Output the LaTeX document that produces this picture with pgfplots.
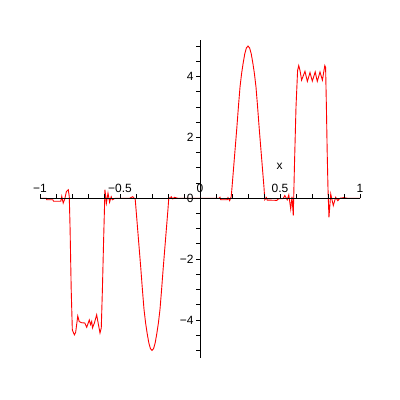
\documentclass[border=0pt]{standalone}
\usepackage{pgfplots}
\pgfplotsset{compat=1.18}
\usepackage{fontspec}
\setmainfont{Liberation Sans}
\begin{document}
\begin{tikzpicture}
\path[use as bounding box, fill=white] (0,0) rectangle (400bp,400bp);
\begin{axis}[
  at={(40bp,42bp)}, anchor=south west,
  scale only axis, width=320bp, height=318bp,
  xmin=-1, xmax=1, ymin=-5.25, ymax=5.2,
  axis lines=middle, axis on top,
  axis line style={-, black, line width=0.8bp},
  hide obscured x ticks=false, hide obscured y ticks=false,
  xtick={-1,-0.5,0,0.5,1},
  xticklabels={−1,−0.5,0,0.5,1},
  minor xtick={-0.9,-0.8,-0.7,-0.6,-0.4,-0.3,-0.2,-0.1,0.1,0.2,0.3,0.4,0.6,0.7,0.8,0.9},
  ytick={-4,-2,0,2,4},
  yticklabels={−4,−2,0,2,4},
  minor ytick={-5,-4.5,-3.5,-3,-2.5,-1.5,-1,-0.5,0.5,1,1.5,2.5,3,3.5,4.5,5},
  xtick align=inside, ytick align=outside,
  major tick length=4bp, minor tick length=4bp,
  tick style={black, line width=0.8bp},
  every tick label/.append style={font=\fontsize{12}{14}\selectfont},
  xticklabel style={anchor=south, yshift=2bp},
  yticklabel style={anchor=east, xshift=1bp},
  clip=false,
]
\addplot[red, line width=0.9bp] coordinates {
(-1,0) (-0.96,0) (-0.958,-0.05) (-0.92,-0.05) (-0.915,-0.1) (-0.87,-0.1)
(-0.864,0.06) (-0.855,-0.16) (-0.845,-0.02) (-0.835,0.22) (-0.823,0.28) (-0.817,0.05)
(-0.812,-1.0) (-0.805,-3.0) (-0.798,-4.33) (-0.785,-4.49) (-0.777,-4.4) (-0.764,-3.87)
(-0.755,-4.05) (-0.74,-4.09) (-0.72,-4.1) (-0.708,-4.24) (-0.692,-4.0) (-0.684,-4.15)
(-0.677,-4.05) (-0.672,-4.26) (-0.66,-4.1) (-0.646,-3.83) (-0.625,-4.43) (-0.617,-4.26)
(-0.61,-3.0) (-0.603,-1.5) (-0.594,0.28) (-0.585,-0.16) (-0.575,0.17) (-0.565,-0.13)
(-0.555,0.05) (-0.548,-0.05) (-0.53,0) (-0.44,0) (-0.42,0.05) (-0.405,-0.03)
(-0.4,-0.35) (-0.39,-1.0) (-0.38,-1.65) (-0.37,-2.3) (-0.36,-3.0) (-0.35,-3.65)
(-0.34,-4.1) (-0.33,-4.45) (-0.32,-4.75) (-0.31,-4.94) (-0.3,-5.0) (-0.29,-4.94)
(-0.28,-4.75) (-0.27,-4.45) (-0.26,-4.1) (-0.25,-3.65) (-0.24,-3.0) (-0.23,-2.3)
(-0.22,-1.65) (-0.21,-1.0) (-0.2,-0.35) (-0.195,0.02) (-0.185,0.0) (-0.18,0.05)
(-0.17,-0.02) (-0.16,0.03) (-0.14,0) (0,0)
(0.12,0) (0.125,0.03) (0.13,-0.05) (0.17,-0.05) (0.175,0.02) (0.185,-0.08) (0.195,0.05)
(0.2,0.35) (0.21,1.0) (0.22,1.65) (0.23,2.3) (0.24,3.0) (0.25,3.65) (0.26,4.1)
(0.27,4.45) (0.28,4.75) (0.29,4.94) (0.3,5.0) (0.31,4.94) (0.32,4.75) (0.33,4.45)
(0.34,4.1) (0.35,3.65) (0.36,3.0) (0.37,2.3) (0.38,1.65) (0.39,1.0) (0.4,0.35)
(0.405,-0.05) (0.415,0.02) (0.42,-0.06) (0.48,-0.07) (0.49,-0.02) (0.52,-0.01)
(0.53,0.09) (0.545,-0.05) (0.555,0.11) (0.567,-0.35) (0.575,0.05) (0.583,-0.57)
(0.59,1.0) (0.6,3.0) (0.61,4.2) (0.617,4.36) (0.625,4.2) (0.635,3.88) (0.656,4.17)
(0.671,3.84) (0.6875,4.13) (0.702,3.85) (0.72,4.15) (0.733,3.84) (0.75,4.15)
(0.765,3.88) (0.78,4.36) (0.785,4.3) (0.79,3.0) (0.795,1.5) (0.8,0.3) (0.806,-0.63)
(0.817,0.14) (0.833,-0.24) (0.848,0.03) (0.861,-0.08) (0.875,0) (0.9,0.02) (0.92,0) (1,0)
};
\node[font=\fontsize{12}{14}\selectfont] at (axis cs:0.497,1.06) {x};
\end{axis}
\end{tikzpicture}
\end{document}
